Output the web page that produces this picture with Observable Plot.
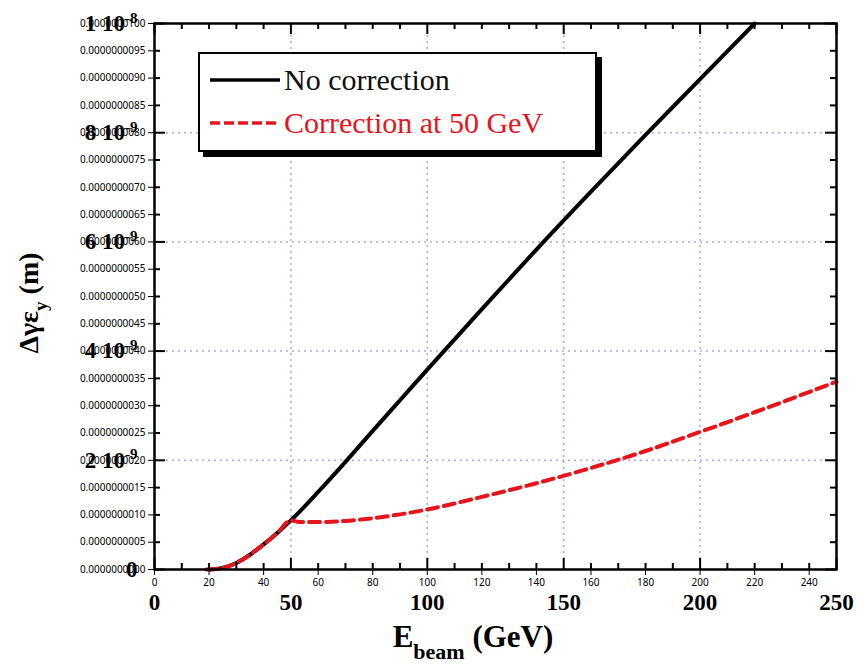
<!DOCTYPE html>
<html><head><meta charset="utf-8">
<script src="https://cdn.jsdelivr.net/npm/d3@7"></script>
<script src="https://cdn.jsdelivr.net/npm/@observablehq/plot@0.6"></script>
<style>
body{margin:0;background:#fff;}
#wrap{position:relative;width:860px;height:670px;}
#wrap svg.overlay{position:absolute;left:0;top:0;}
#legend{position:absolute;left:198px;top:52px;width:395px;height:96px;border:2px solid #000;box-shadow:5px 5px 0 #000;background:#fff;}
</style></head>
<body><div id="wrap"><div id="legend"></div></div>
<script>
// Beam energy (GeV) and vertical emittance growth (m)
const energyNoCorr = [20,25,30,35,40,45,50,60,70,80,90,100,120,140,160,180,200,220];
const growthNoCorr = [0,0.03e-9,0.12e-9,0.27e-9,0.46e-9,0.67e-9,0.90e-9,1.42e-9,1.97e-9,2.54e-9,3.10e-9,3.66e-9,4.77e-9,5.86e-9,6.92e-9,7.96e-9,8.98e-9,10.0e-9];
const energyCorr = [19,25,30,35,40,45,50,53,60,70,80,90,100,120,140,160,180,200,220,250];
const growthCorr = [0,0.03e-9,0.12e-9,0.27e-9,0.46e-9,0.67e-9,0.90e-9,0.87e-9,0.87e-9,0.89e-9,0.94e-9,1.01e-9,1.10e-9,1.33e-9,1.58e-9,1.86e-9,2.17e-9,2.52e-9,2.88e-9,3.44e-9];
const seriesNames = ["No correction", "Correction at 50 GeV"];
const seriesColors = ["#000000", "#e8141c"];
const xMajorTicks = [0,50,100,150,200,250];
const xMinorTicks = d3.range(0,251,10).filter(v => v % 50 !== 0);
const yMajorTicks = [0,2e-9,4e-9,6e-9,8e-9,1e-8];
const yMinorTicks = d3.range(0,21).map(i => i*0.5e-9).filter((v,i) => i % 4 !== 0);
const xGrid = [50,100,150,200];
const yGrid = [2e-9,4e-9,6e-9,8e-9];

const noCorr = energyNoCorr.map((e,i) => ({e, v: growthNoCorr[i]}));
const corr = energyCorr.map((e,i) => ({e, v: growthCorr[i]}));

const W = 860, H = 670, mL = 154, mR = 24, mT = 23, mB = 101;
const innerW = W - mL - mR, innerH = H - mT - mB;
const yFmt = v => v === 0 ? "0" : (v >= 0.99e-8 ? "1 10^-8" : `${Math.round(v/1e-9)} 10^-9`);
const font = '"Liberation Serif", "Times New Roman", serif';
const gridStyle = {stroke: "#a8a8e8", strokeOpacity: 1, strokeWidth: 1.5, strokeDasharray: "2,4"};
const tk = {stroke: "#000", strokeWidth: 2};
const common = {
  width: W, height: H,
  marginLeft: mL, marginRight: mR, marginTop: mT, marginBottom: mB,
  x: {domain: [0,250]},
  y: {domain: [0,1e-8]}
};

const chart = Plot.plot({
  ...common,
  style: {fontFamily: font, background: "#fff", color: "#000"},
  marks: [
    Plot.gridX(xGrid, gridStyle),
    Plot.gridY(yGrid, gridStyle),
    Plot.axisX(xMajorTicks, {tickSize: 0, tickPadding: 24, fontSize: 23, fontWeight: "bold", label: null}),
    Plot.axisY(yMajorTicks, {tickSize: 0, tickPadding: 17, fontSize: 23, fontWeight: "bold", tickFormat: yFmt, label: null}),
    Plot.line(noCorr, {x: "e", y: "v", stroke: seriesColors[0], strokeWidth: 4, curve: "monotone-x"}),
    Plot.line(corr, {x: "e", y: "v", stroke: seriesColors[1], strokeWidth: 4, strokeDasharray: "11,6", curve: "monotone-x"}),
    Plot.frame({stroke: "#000", strokeWidth: 2.5})
  ]
});

// inward ticks on all four sides, in a transparent overlay with the same scales
const ticks = Plot.plot({
  ...common,
  style: {background: "transparent", color: "#000"},
  marks: [
    Plot.tickX(xMinorTicks, {x: d => d, insetTop: innerH - 6, ...tk}),
    Plot.tickX(xMinorTicks, {x: d => d, insetBottom: innerH - 6, ...tk}),
    Plot.tickX(xMajorTicks, {x: d => d, insetTop: innerH - 11, ...tk}),
    Plot.tickX(xMajorTicks, {x: d => d, insetBottom: innerH - 11, ...tk}),
    Plot.tickY(yMinorTicks, {y: d => d, insetRight: innerW - 6, ...tk}),
    Plot.tickY(yMinorTicks, {y: d => d, insetLeft: innerW - 6, ...tk}),
    Plot.tickY(yMajorTicks, {y: d => d, insetRight: innerW - 11, ...tk}),
    Plot.tickY(yMajorTicks, {y: d => d, insetLeft: innerW - 11, ...tk})
  ]
});
ticks.classList.add("overlay");
d3.select(ticks).selectAll('[aria-label="tick"] line').attr("stroke", "#000").attr("stroke-width", 2);

const svg = d3.select(chart);
// superscript exponents in y tick labels
svg.selectAll('[aria-label="y-axis tick label"] text').each(function() {
  const t = d3.select(this);
  const s = t.text();
  if (s.includes("^")) {
    const [base, exp] = s.split("^");
    t.text(null);
    t.append("tspan").text(base);
    t.append("tspan").attr("dy", "-0.55em").attr("font-size", 15).text(exp);
  }
});
// axis titles
const xl = svg.append("text").attr("x", 473).attr("y", 647).attr("text-anchor", "middle")
  .attr("font-family", font).attr("font-weight", "bold").attr("font-size", 31);
xl.append("tspan").text("E");
xl.append("tspan").attr("font-size", 22).attr("dy", 12).text("beam");
xl.append("tspan").attr("dy", -12).text(" (GeV)");
const yl = svg.append("text").attr("transform", "translate(38,303) rotate(-90)").attr("text-anchor", "middle")
  .attr("font-family", font).attr("font-weight", "bold").attr("font-size", 28);
yl.append("tspan").text("Δγε");
yl.append("tspan").attr("font-size", 19).attr("dy", 9).text("y");
yl.append("tspan").attr("dy", -9).text(" (m)");

const wrap = document.getElementById("wrap");
wrap.prepend(chart);
wrap.insertBefore(ticks, document.getElementById("legend"));

// legend
const leg = d3.select("#legend").append("svg").attr("width", 395).attr("height", 96);
seriesNames.forEach((name, i) => {
  const y = 26 + i * 43;
  leg.append("line").attr("x1", 10).attr("x2", 80).attr("y1", y).attr("y2", y)
    .attr("stroke", seriesColors[i]).attr("stroke-width", 3.5)
    .attr("stroke-dasharray", i === 1 ? "10,4" : null);
  leg.append("text").attr("x", 84).attr("y", y + 10)
    .attr("style", `font-family:${font};font-size:30px`)
    .attr("fill", i === 0 ? "#111" : seriesColors[i]).text(name);
});
</script>
</body></html>
